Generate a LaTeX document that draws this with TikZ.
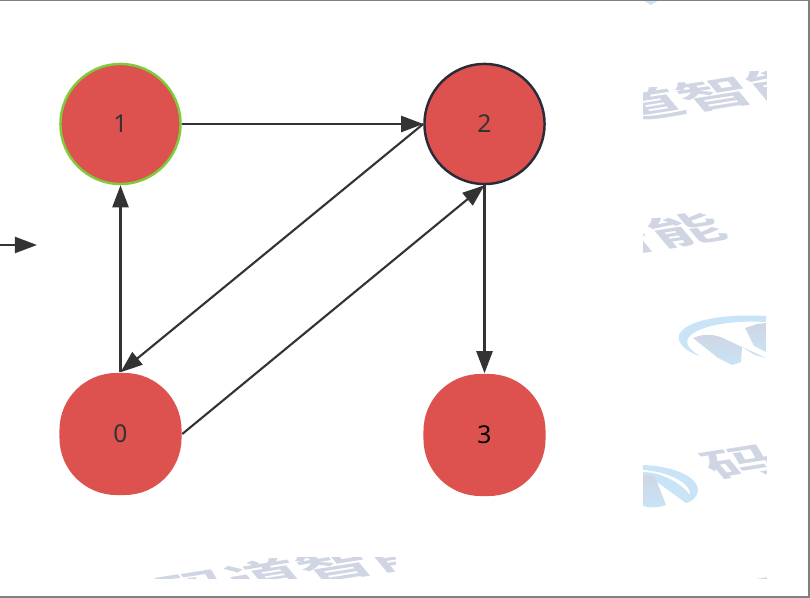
\documentclass[tikz,border=0pt]{standalone}
\usepackage{fontspec}
\setmainfont{Noto Sans}
\newfontfamily\cjk{Noto Sans CJK SC Bold}
\usetikzlibrary{arrows.meta}
\definecolor{vertexred}{HTML}{DD524E}
\definecolor{edgegray}{HTML}{333333}
\definecolor{markgray}{HTML}{D0D5E3}
\definecolor{markblue}{HTML}{C8E4F6}
\definecolor{ringgreen}{HTML}{7FCB3A}
\definecolor{ringdark}{HTML}{2A2A38}
\tikzset{
    vertex/.style={circle, fill=vertexred, minimum size=1.2cm, inner sep=0pt, text=edgegray, font=\fontsize{7}{8}\selectfont},
    blob/.style={vertex, rectangle, rounded corners=0.57cm, minimum size=1.22cm},
    edge/.style={draw=edgegray, line width=0.6pt, -{Triangle[length=0.22cm, width=0.16cm]}},
    stamp/.style={text=markgray, font=\cjk\fontsize{20}{20}\selectfont, inner sep=0pt, rotate=9, xslant=-0.6, yscale=0.5, transform shape},
}

\begin{document}
\begin{tikzpicture}[x=0.01cm, y=-0.01cm]
    \useasboundingbox (0, 0) rectangle (810, 598);
    \fill[white] (0, 0) rectangle (810, 598);

    % Watermark strip on the right
    \begin{scope}
        \clip (643, 0) rectangle (766, 578);
        \node[stamp] (top) at (715, 94) {道智能};
        \node[stamp] (mid) at (617, 241) {道智能};
        \node[stamp] (low) at (776, 456) {码道};
        \node[stamp] (end) at (806, 586) {码道};
        \fill[markblue] (643, 0) -- (659, 0) -- (651, 5) -- cycle;

        % Logo, upper
        \fill[markblue] (766, 316) .. controls (710, 313) and (675, 325) .. (679, 340)
            .. controls (682, 348) and (690, 353) .. (700, 356)
            .. controls (690, 350) and (684, 344) .. (689, 337)
            .. controls (698, 326) and (730, 320) .. (766, 322) -- cycle;
        \shade[top color=markgray, bottom color=markblue] (693, 338) .. controls (705, 333) and (716, 334) .. (727, 340)
            -- (766, 358) -- (755, 355) -- (742, 347) -- (741, 362) -- (732, 365) -- (718, 358) -- cycle;
        \shade[top color=markgray, bottom color=markblue] (745, 328) -- (757, 324) -- (766, 323) -- (766, 352) -- (754, 346) -- cycle;

        % Logo, lower
        \fill[markblue] (643, 465) .. controls (670, 466) and (698, 475) .. (698, 491)
            .. controls (697, 497) and (692, 502) .. (686, 503) -- (657, 482) -- (643, 478) -- (643, 472)
            .. controls (660, 472) and (680, 482) .. (690, 495)
            .. controls (692, 485) and (672, 472) .. (643, 470) -- cycle;
        \shade[top color=markgray, bottom color=markblue] (643, 476) .. controls (650, 473) and (655, 476) .. (657, 482)
            -- (666, 505) .. controls (658, 508) and (650, 508) .. (643, 506) -- cycle;
    \end{scope}

    % Watermark strip at the bottom
    \begin{scope}
        \clip (155, 557) rectangle (395, 578);
        \node[stamp] (base) at (300, 570) {码道智能};
    \end{scope}

    % Vertices
    \node[blob] (n0) at (120.5, 434) {0};
    \node[vertex, draw=ringgreen, line width=0.7pt] (n1) at (120.5, 124) {1};
    \node[vertex, draw=ringdark, line width=0.7pt] (n2) at (484.5, 124) {2};
    \node[blob, text=black] (n3) at (484.5, 435) {3};

    % Edges
    \coordinate (inA) at (0, 245);
    \coordinate (inB) at (37, 245);
    \draw[edge] (inA) -- (inB);
    \draw[edge, line width=0.65pt] (n0.north) -- (n1.south);
    \draw[edge] (n1.east) -- (n2.west);
    \draw[edge] (n2.west) -- (n0.north);
    \draw[edge] (n0.east) -- (n2.south);
    \draw[edge, line width=0.65pt] (n2.south) -- (n3.north);

    % Frame
    \draw[gray, line width=0.5pt] (0, 0.5) -- (809.3, 0.5) -- (809.3, 597.3) -- (0, 597.3);
\end{tikzpicture}
\end{document}
